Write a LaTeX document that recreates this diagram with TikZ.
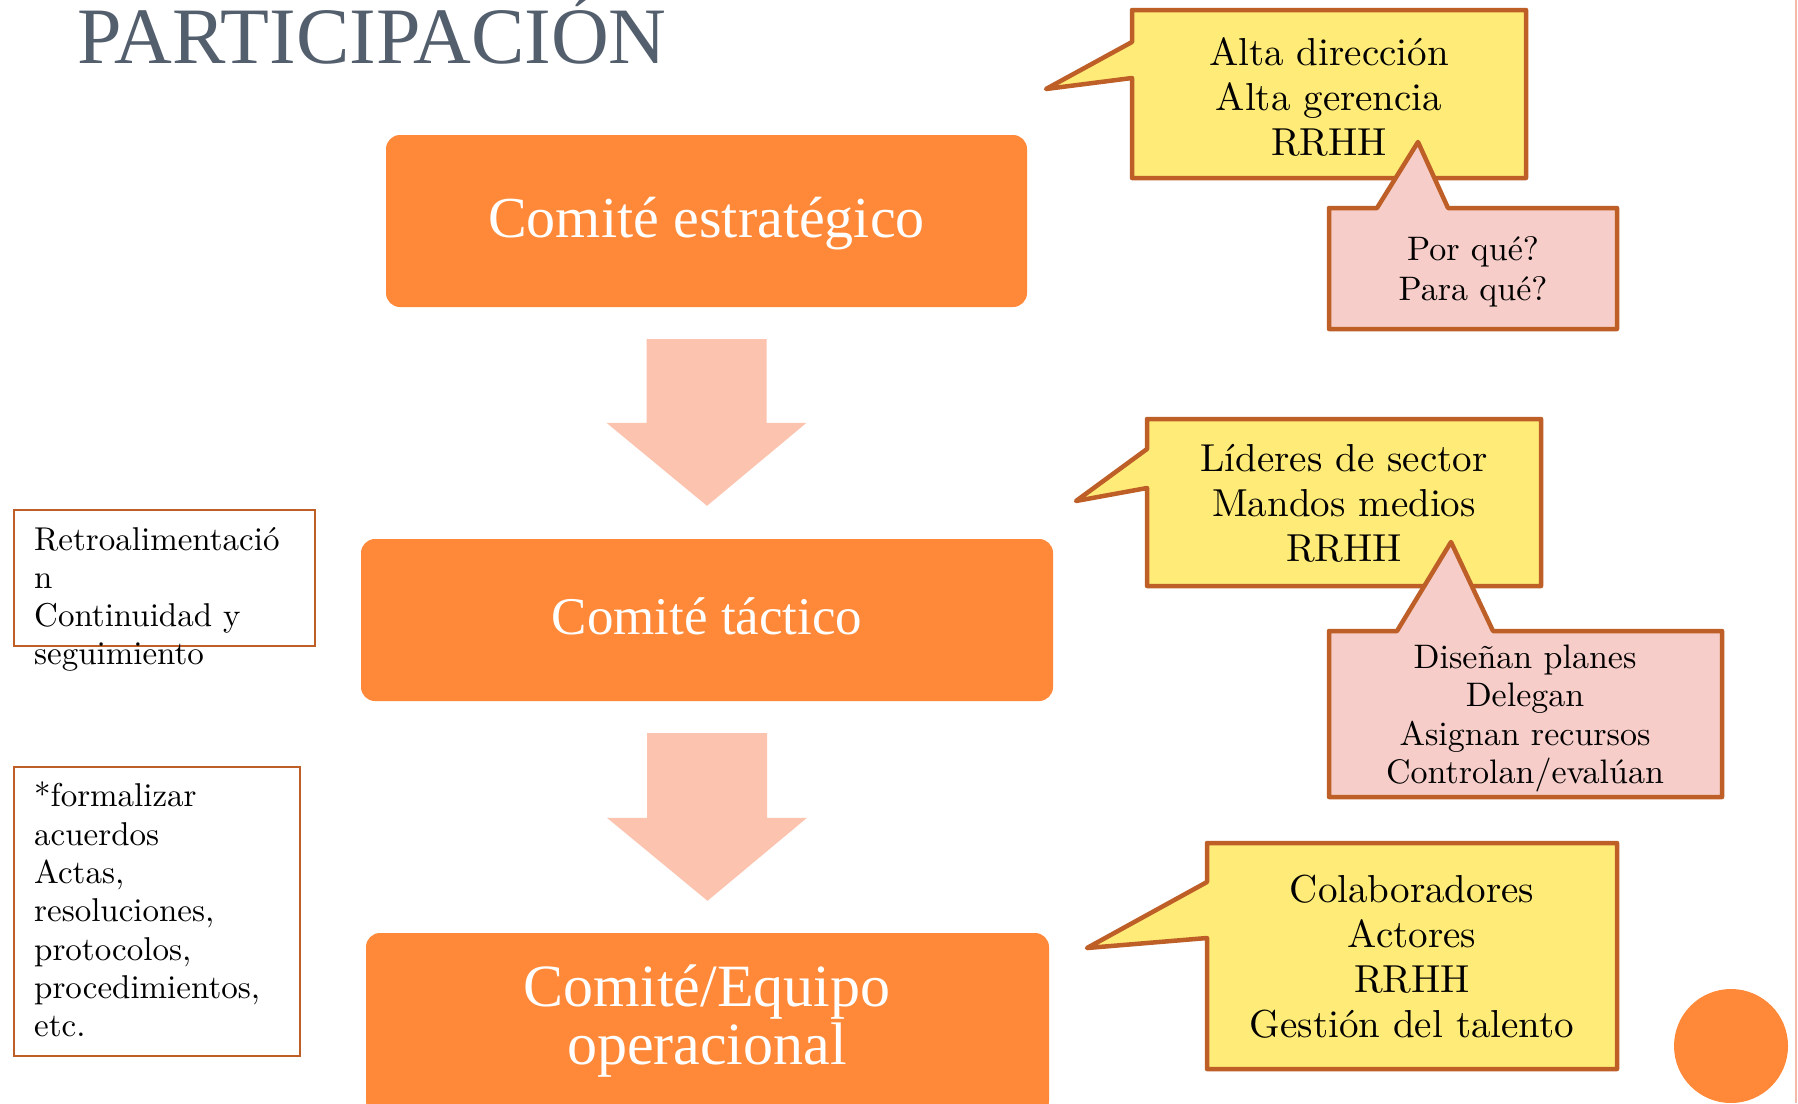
\documentclass[tikz,border=0pt]{standalone}
\usepackage{fontspec}
\newfontfamily\serfont{Liberation Serif}
\newfontfamily\lmten{lmroman10-regular}[Extension=.otf]
\usetikzlibrary{calc}
\definecolor{orng}{RGB}{255,137,56}
\definecolor{arrfill}{RGB}{252,195,175}
\definecolor{yel}{RGB}{255,236,120}
\definecolor{pnk}{RGB}{246,205,200}
\definecolor{brn}{RGB}{190,95,40}
\definecolor{ttlgray}{RGB}{84,95,110}
\definecolor{edgepink}{RGB}{245,185,170}
\begin{document}
\begin{tikzpicture}[x=1pt,y=-1pt,
  obox/.style={fill=orng,draw=none,rounded corners=14pt,inner sep=0pt},
  blockarrow/.style={fill=arrfill,draw=none},
  callY/.style={fill=yel,draw=brn,line width=4.5pt,line join=round},
  callP/.style={fill=pnk,draw=brn,line width=4.5pt,line join=round},
  sidebox/.style={draw=brn,line width=2.2pt,fill=none},
  wtxt/.style={anchor=base,inner sep=0pt,text=white},
  ctxt/.style={anchor=base,inner sep=0pt,text=black,font=\lmten\fontsize{39}{45}\selectfont},
  ptxt/.style={anchor=base,inner sep=0pt,text=black,font=\lmten\fontsize{34}{39}\selectfont},
  ltxt/.style={anchor=base west,inner sep=0pt,text=black,font=\lmten\fontsize{33}{38}\selectfont}]
\useasboundingbox (0,0) rectangle (1798,1103);
\begin{scope}
\clip (0,0) rectangle (1798,1103);
\fill[white] (0,0) rectangle (1798,1103);
% right edge line
\draw[edgepink,line width=2pt] (1796,0) -- (1796,1103);
% title
\node[anchor=base west,inner sep=0pt,text=ttlgray,font=\serfont\fontsize{80}{80}\selectfont] (title) at (77,63) {PARTICIPACIÓN};
% orange boxes
\node[obox,minimum width=641pt,minimum height=172pt] (c1) at (706.5,221) {};
\node[wtxt,font=\serfont\fontsize{58}{58}\selectfont] (c1t) at (706.5,237) {Comité estratégico};
\node[obox,minimum width=692pt,minimum height=162pt] (c2) at (707,620) {};
\node[wtxt,font=\serfont\fontsize{53}{53}\selectfont] (c2t) at (707,634) {Comité táctico};
\node[obox,minimum width=683pt,minimum height=182pt] (c3) at (707.5,1024) {};
\node[wtxt,font=\serfont\fontsize{60}{60}\selectfont] (c3a) at (707,1006) {Comité/Equipo};
\node[wtxt,font=\serfont\fontsize{60}{60}\selectfont] (c3b) at (707,1064) {operacional};
% block arrows between boxes
\path ($(c1.south)+(0,32)$) coordinate (a1s) ($(c2.north)+(0,-33)$) coordinate (a1t);
\fill[blockarrow] let \p1=(a1s), \p2=(a1t) in
  (\x1-60pt,\y1) -- (\x1+60pt,\y1) -- (\x1+60pt,\y2+83pt) -- (\x1+100pt,\y2+83pt)
  -- (\x2,\y2) -- (\x1-100pt,\y2+83pt) -- (\x1-60pt,\y2+83pt) -- cycle;
\path ($(c2.south)+(0,32)$) coordinate (a2s) ($(c3.north)+(0,-32)$) coordinate (a2t);
\fill[blockarrow] let \p1=(a2s), \p2=(a2t) in
  (\x1-60pt,\y1) -- (\x1+60pt,\y1) -- (\x1+60pt,\y2+83pt) -- (\x1+100pt,\y2+83pt)
  -- (\x2,\y2) -- (\x1-100pt,\y2+83pt) -- (\x1-60pt,\y2+83pt) -- cycle;
% callout 1
\draw[callY] (1132,10) -- (1526,10) -- (1526,178) -- (1132,178) -- (1132,78) -- (1046,89) -- (1132,42) -- cycle;
\node[ctxt] (y1a) at (1329,65) {Alta dirección};
\node[ctxt] (y1b) at (1329,110) {Alta gerencia};
\node[ctxt] (y1c) at (1329,155) {RRHH};
\draw[callP] (1329,208) -- (1377,208) -- (1418,142) -- (1448,208) -- (1617,208) -- (1617,329) -- (1329,329) -- cycle;
\node[ptxt] (p1a) at (1473,260) {Por qué?};
\node[ptxt] (p1b) at (1473,300) {Para qué?};
% callout 2
\draw[callY] (1147,419) -- (1541,419) -- (1541,586) -- (1147,586) -- (1147,488) -- (1076,501) -- (1147,449) -- cycle;
\node[ctxt] (y2a) at (1344,471) {Líderes de sector};
\node[ctxt] (y2b) at (1344,516) {Mandos medios};
\node[ctxt] (y2c) at (1344,561) {RRHH};
\draw[callP] (1329,631) -- (1397,631) -- (1451,542) -- (1493,631) -- (1722,631) -- (1722,797) -- (1329,797) -- cycle;
\node[ptxt] (p2a) at (1525,668) {Diseñan planes};
\node[ptxt] (p2b) at (1525,706) {Delegan};
\node[ptxt] (p2c) at (1525,745) {Asignan recursos};
\node[ptxt] (p2d) at (1525,783) {Controlan/evalúan};
% callout 3
\draw[callY] (1207,843) -- (1617,843) -- (1617,1069) -- (1207,1069) -- (1207,938) -- (1087,948) -- (1207,882) -- cycle;
\node[ctxt] (y3a) at (1412,902) {Colaboradores};
\node[ctxt] (y3b) at (1412,947) {Actores};
\node[ctxt] (y3c) at (1412,992) {RRHH};
\node[ctxt] (y3d) at (1412,1037) {Gestión del talento};
% left boxes
\draw[sidebox] (14,510) rectangle (315,646);
\node[ltxt] (l1a) at (34,550) {Retroalimentació};
\node[ltxt] (l1b) at (34,588) {n};
\node[ltxt] (l1c) at (34,626) {Continuidad y};
\node[ltxt] (l1d) at (34,664) {seguimiento};
\draw[sidebox] (14,767) rectangle (300,1056);
\node[ltxt] (l2a) at (34,806) {*formalizar};
\node[ltxt] (l2b) at (34,845) {acuerdos};
\node[ltxt] (l2c) at (34,883) {Actas,};
\node[ltxt] (l2d) at (34,921) {resoluciones,};
\node[ltxt] (l2e) at (34,960) {protocolos,};
\node[ltxt] (l2f) at (34,998) {procedimientos,};
\node[ltxt] (l2g) at (34,1036) {etc.};
% circle
\fill[orng] (1731,1046) circle (57);
\end{scope}
\end{tikzpicture}
\end{document}
